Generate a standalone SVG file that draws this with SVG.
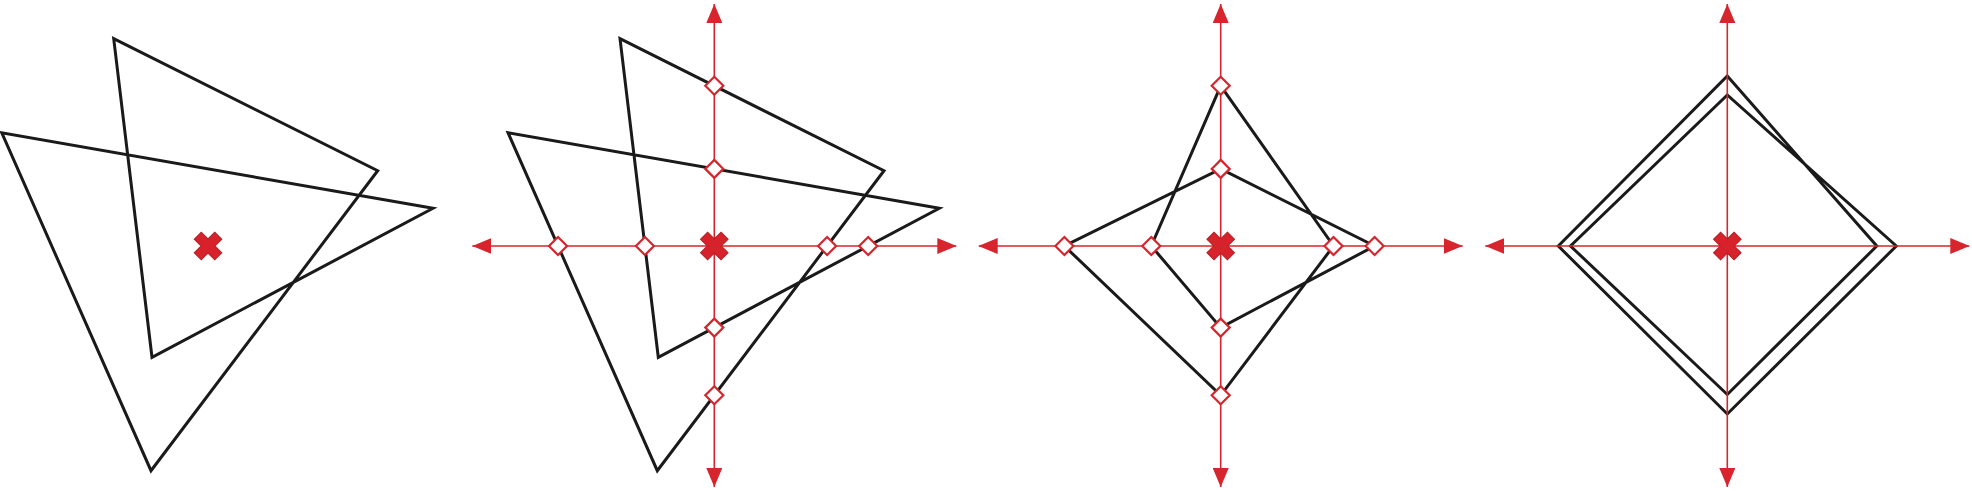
<svg xmlns="http://www.w3.org/2000/svg" width="1972" height="491" viewBox="0 0 1972 491">
<defs>
<style>
.shape{fill:none;stroke:#1a1a1a;stroke-width:3;stroke-linejoin:miter;stroke-miterlimit:6}
.axis{stroke:#d7242d;stroke-width:1.6;fill:none;marker-start:url(#arr);marker-end:url(#arr)}
.dia{fill:#ffffff;stroke:#d7242d;stroke-width:2.2}
.cross{fill:#d7222b;stroke:#b51e25;stroke-width:1}
</style>
<marker id="arr" viewBox="0 0 19 16" refX="19" refY="8" markerWidth="19" markerHeight="16" markerUnits="userSpaceOnUse" orient="auto-start-reverse">
<path d="M0,0 L19,8 L0,16 Z" fill="#d7242d"/>
</marker>
<polygon id="hex" points="-94.3,-207.3 169.7,-75.3 -57,224.7 -206.3,-113.3 225,-37.7 -56,111.3"/>
<path id="dm" d="M0,-9 L9,0 L0,9 L-9,0 Z"/>
<path id="xm" transform="rotate(45)" d="M-5,-14.5 L5,-14.5 L5,-5 L14.5,-5 L14.5,5 L5,5 L5,14.5 L-5,14.5 L-5,5 L-14.5,5 L-14.5,-5 L-5,-5 Z"/>
</defs>
<g id="shapes">
<use href="#hex" class="shape" transform="translate(208,246)"/>
<use href="#hex" class="shape" transform="translate(714.3,246)"/>
<polygon class="shape" transform="translate(1220.7,246)" points="0,-160.2 112.8,0 0,149.3 -156.3,0 0,-77.1 153.9,0 0,81.6 -69.4,0"/>
<polygon class="shape" transform="translate(1727.3,246)" points="0,-170 149.5,0 0,148.5 -156.8,0 0,-151 169,0 0,168 -169,0"/>
</g>
<g id="connectors">
<line class="axis" x1="472.3" y1="246" x2="956.3" y2="246"/>
<line class="axis" x1="714.3" y1="487" x2="714.3" y2="4"/>
<line class="axis" x1="978.7" y1="246" x2="1462.7" y2="246"/>
<line class="axis" x1="1220.7" y1="487" x2="1220.7" y2="4"/>
<line class="axis" x1="1485.3" y1="246" x2="1969.3" y2="246"/>
<line class="axis" x1="1727.3" y1="487" x2="1727.3" y2="4"/>
</g>
<g id="panel1">
<use id="center1" href="#xm" class="cross" x="208" y="246"/>
</g>
<g id="panel2">
<use href="#dm" class="dia" x="714.3" y="85.8"/>
<use href="#dm" class="dia" x="714.3" y="168.9"/>
<use href="#dm" class="dia" x="714.3" y="327.6"/>
<use href="#dm" class="dia" x="714.3" y="395.3"/>
<use href="#dm" class="dia" x="558" y="246"/>
<use href="#dm" class="dia" x="644.9" y="246"/>
<use href="#dm" class="dia" x="827.1" y="246"/>
<use href="#dm" class="dia" x="868.2" y="246"/>
<use id="center2" href="#xm" class="cross" x="714.3" y="246"/>
</g>
<g id="panel3">
<use href="#dm" class="dia" x="1220.7" y="85.8"/>
<use href="#dm" class="dia" x="1220.7" y="168.9"/>
<use href="#dm" class="dia" x="1220.7" y="327.6"/>
<use href="#dm" class="dia" x="1220.7" y="395.3"/>
<use href="#dm" class="dia" x="1064.4" y="246"/>
<use href="#dm" class="dia" x="1151.3" y="246"/>
<use href="#dm" class="dia" x="1333.5" y="246"/>
<use href="#dm" class="dia" x="1374.6" y="246"/>
<use id="center3" href="#xm" class="cross" x="1220.7" y="246"/>
</g>
<g id="panel4">
<use id="center4" href="#xm" class="cross" x="1727.3" y="246"/>
</g>
</svg>
